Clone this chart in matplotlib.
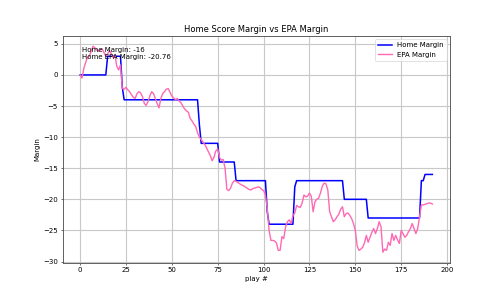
import numpy as np
import matplotlib.pyplot as plt

#%% Data

home_margin = [
    0, 0, 0, 0, 0, 0, 0, 0, 0, 0, 0, 0, 0, 0, 0,
    3, 3, 3, 3, 3, 3, 3, 3,
    -2,
    -4, -4, -4, -4, -4, -4, -4, -4, -4, -4, -4, -4, -4, -4, -4, -4, -4, -4, -4, -4,
    -4, -4, -4, -4, -4, -4, -4, -4, -4, -4, -4, -4, -4, -4, -4, -4, -4, -4, -4, -4, -4,
    -8,
    -11, -11, -11, -11, -11, -11, -11, -11, -11, -11,
    -14, -14, -14, -14, -14, -14, -14, -14, -14,
    -17, -17, -17, -17, -17, -17, -17, -17, -17, -17, -17, -17, -17, -17, -17, -17, -17,
    -22,
    -24, -24, -24, -24, -24, -24, -24, -24, -24, -24, -24, -24, -24, -24,
    -18,
    -17, -17, -17, -17, -17, -17, -17, -17, -17, -17, -17, -17, -17,
    -17, -17, -17, -17, -17, -17, -17, -17, -17, -17, -17, -17, -17,
    -20, -20, -20, -20, -20, -20, -20, -20, -20, -20, -20, -20, -20,
    -23, -23, -23, -23, -23, -23, -23, -23, -23, -23, -23, -23, -23, -23, -23,
    -23, -23, -23, -23, -23, -23, -23, -23, -23, -23, -23, -23, -23, -23,
    -17, -17,
    -16, -16, -16, -16, -16,
]

epa_margin = [
    0.0, -0.5, 1.0, 2.0, 2.8, 3.0, 3.8, 4.6, 4.4, 4.0,
    3.8, 4.0, 4.2, 3.6, 3.0, 3.4, 3.9, 3.4, 2.8, 3.2,
    1.4, 0.8, 1.6, -2.2, -2.3, -2.0, -2.4, -2.7, -3.2, -3.6,
    -3.8, -3.0, -2.7, -2.9, -3.5, -4.6, -4.9, -4.3, -3.4, -2.7,
    -3.0, -3.8, -4.6, -5.3, -3.8, -3.0, -2.7, -2.3, -2.2, -2.8,
    -3.4, -3.7, -4.0, -3.8, -4.2, -4.5, -5.0, -5.5, -5.8, -6.0,
    -7.0, -7.4, -7.9, -8.3, -9.3, -10.0, -10.4, -10.8, -11.2, -11.8,
    -12.4, -13.0, -13.8, -13.2, -12.2, -11.9, -13.3, -13.7, -13.6, -15.0,
    -18.4, -18.6, -18.2, -17.4, -17.0, -17.1, -17.3, -17.5, -17.7, -17.8,
    -18.0, -18.2, -18.4, -18.5, -18.3, -18.2, -18.1, -18.0, -18.1, -18.4,
    -18.6, -19.3, -21.5, -25.0, -26.6, -26.6, -26.7, -27.0, -28.2, -28.2,
    -26.0, -26.3, -24.4, -23.6, -23.3, -23.9, -22.6, -22.2, -21.0, -21.2,
    -21.3, -20.6, -19.3, -19.6, -19.5, -19.0, -19.5, -22.0, -20.4, -20.0,
    -19.8, -19.0, -17.9, -17.4, -17.5, -18.5, -22.0, -22.8, -23.6, -23.3,
    -22.8, -22.4, -21.6, -21.2, -22.8, -22.3, -22.2, -22.6, -23.1, -23.9,
    -25.0, -27.5, -28.2, -28.0, -27.7, -27.0, -25.8, -26.9, -26.1, -25.3,
    -24.7, -25.5, -24.7, -23.6, -24.4, -28.5, -28.0, -28.2, -26.9, -27.4,
    -25.5, -26.6, -25.8, -26.5, -27.1, -25.0, -25.5, -26.1, -25.8, -25.2,
    -24.7, -23.9, -24.7, -25.5, -24.7, -22.8, -20.9, -20.9, -20.8, -20.7,
    -20.6, -20.6, -20.76,
]

plays = np.arange(len(home_margin))

#%% Plot

fig, ax = plt.subplots(figsize=[10, 6], dpi=50)
plt.subplots_adjust(bottom=0.125)

ax.plot(plays, home_margin, color='blue', linewidth=2.2, label='Home Margin')
ax.plot(plays, epa_margin, color='#ff69b4', linewidth=2.0, label='EPA Margin')

ax.text(0.05, 0.95, 'Home Margin: ' + str(home_margin[-1]) + '\nHome EPA Margin: ' + str(epa_margin[-1]),
        transform=ax.transAxes, va='top')

ax.set_title('Home Score Margin vs EPA Margin')
ax.set_xlabel('play #')
ax.set_ylabel('Margin')
ax.grid(True, color='#c8c8c8', linewidth=1.6)
for s in ax.spines.values():
    s.set_linewidth(1.3)
    s.set_color('#555555')
ax.legend(loc='upper right')

plt.savefig('out.png', dpi=50)
